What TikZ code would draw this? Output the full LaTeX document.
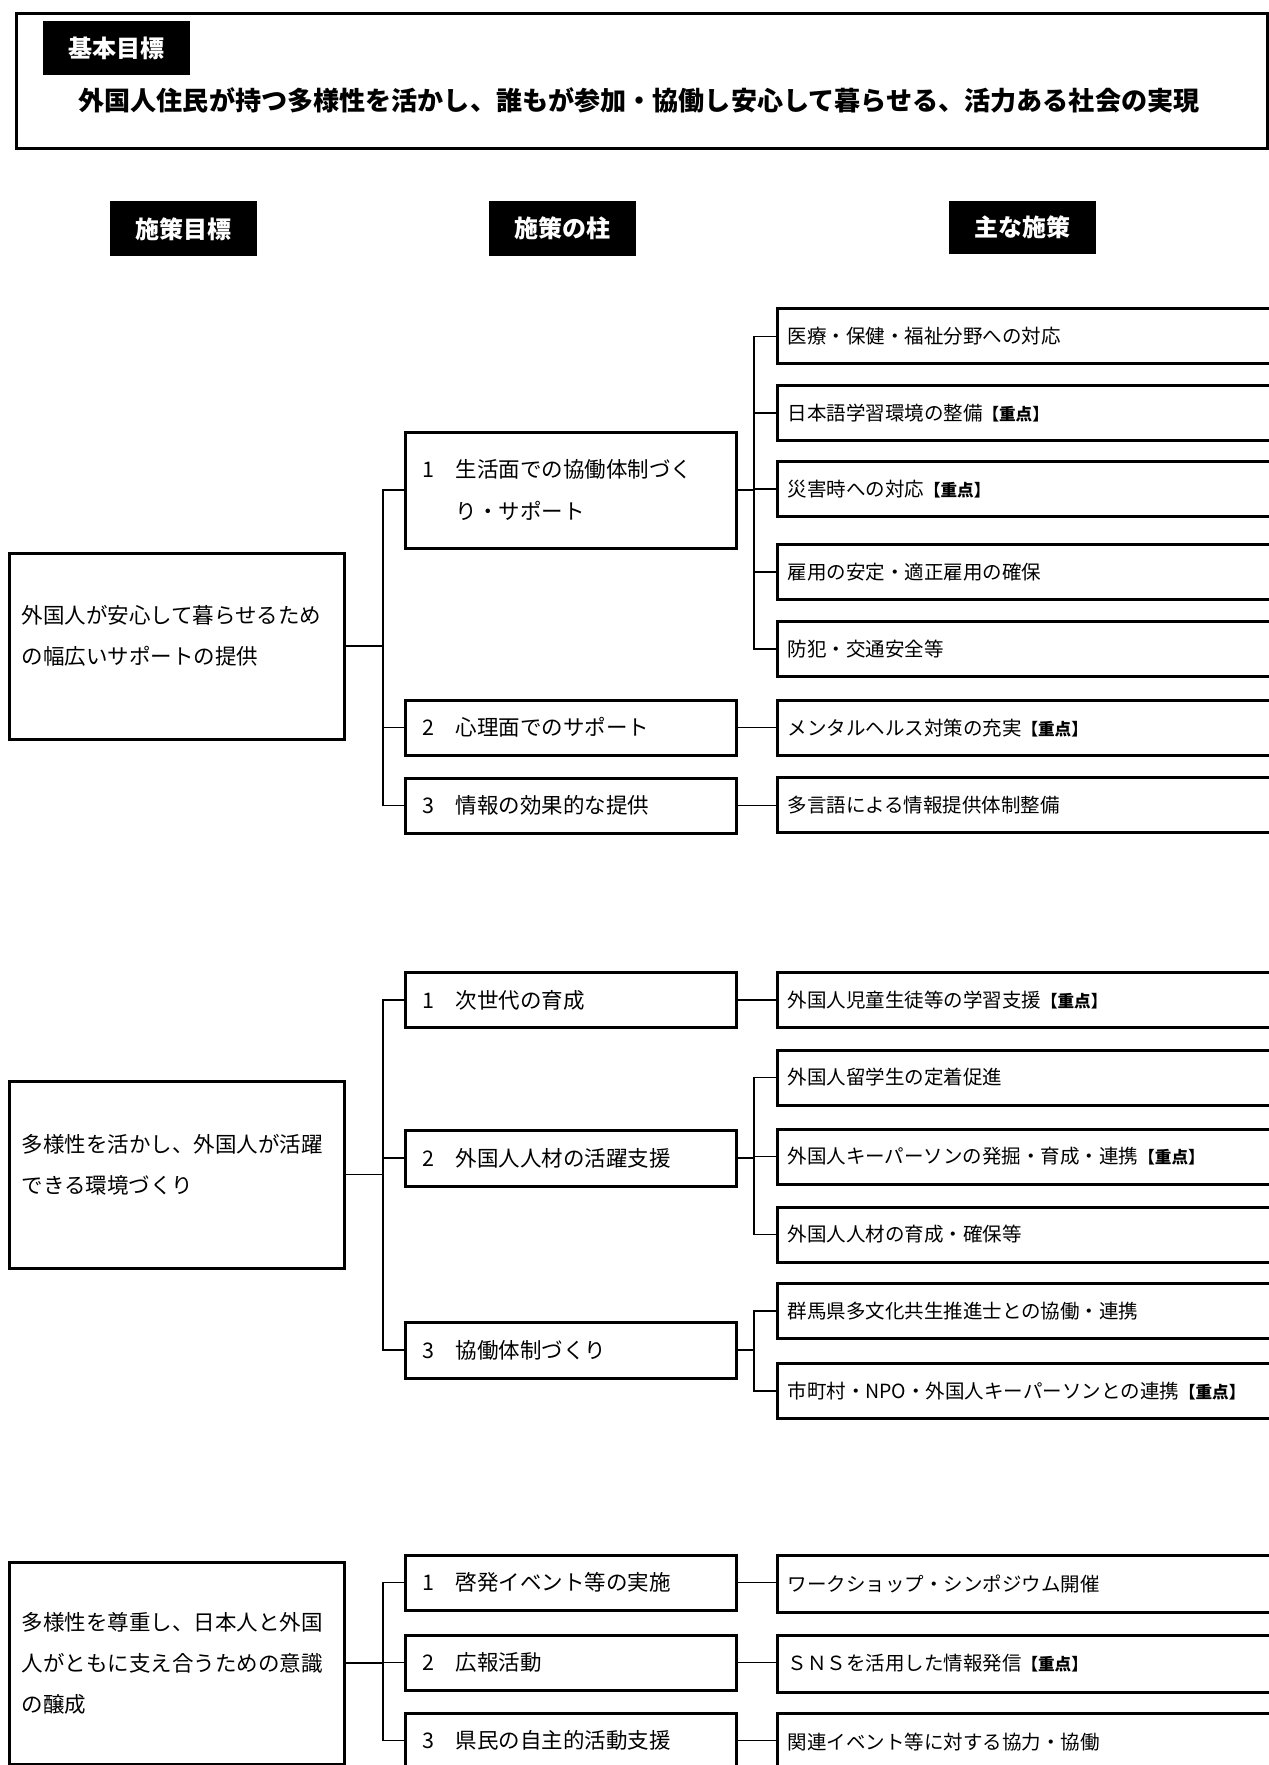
\documentclass[tikz,border=0pt]{standalone}
\usepackage{fontspec}
\setmainfont{Noto Sans CJK JP}
\usetikzlibrary{positioning}
\newcommand{\jyuten}{{\fontsize{8.3}{9}\selectfont\bfseries 【重点】}}

\begin{document}
\begin{tikzpicture}[x=0.5pt,y=0.5pt]
    \tikzset{
        kasten/.style={draw=black, line width=1.5pt, rectangle, inner ysep=0pt},
        ziel/.style={kasten, anchor=west, inner xsep=6pt, text width=155.5pt, align=left, font=\fontsize{10.75}{20.5}\selectfont},
        saeule/.style={kasten, anchor=west, inner xsep=8.5pt, text width=148.5pt, align=left, minimum height=27.5pt, font=\fontsize{10.75}{21}\selectfont},
        massnahme/.style={kasten, anchor=west, inner xsep=5pt, text width=252pt, align=left, minimum height=27.5pt, font=\fontsize{9.75}{12}\selectfont},
        etikett/.style={fill=black, text=white, font=\fontsize{12}{14}\selectfont\bfseries, minimum width=73.5pt, minimum height=27.5pt, inner sep=0pt},
        linie/.style={line width=0.6pt},
    }
\useasboundingbox (0,0) rectangle (1268,-1765);

% Grundziel
\node[kasten, anchor=north west, minimum width=625.5pt, minimum height=67.5pt] (grundziel) at (15,-12) {};
\node[etikett, minimum width=73.5pt, minimum height=27pt] (grundLabel) at (116.5,-48) {基本目標};
\node[font=\fontsize{13.05}{16}\selectfont\bfseries] (leitbild) at (639,-100) {外国人住民が持つ多様性を活かし、誰もが参加・協働し安心して暮らせる、活力ある社会の実現};

% Spaltenkoepfe
\node[etikett] (kopfZiel) at (183.5,-229) {施策目標};
\node[etikett] (kopfSaeule) at (562.5,-228.5) {施策の柱};
\node[etikett, minimum height=26.5pt] (kopfMass) at (1022,-227.5) {主な施策};

% Ziel 1
\node[ziel, minimum height=93pt, text depth=31.4pt] (goalA) at (8,-646) {外国人が安心して暮らせるため\\の幅広いサポートの提供};
\node[saeule, minimum height=58pt] (pilA1) at (404,-490) {1　生活面での協働体制づく\\\hphantom{1　}り・サポート};
\node[saeule] (pilA2) at (404,-727.5) {2　心理面でのサポート};
\node[saeule] (pilA3) at (404,-805.5) {3　情報の効果的な提供};
\foreach \y/\txt [count=\i] in {336.5/医療・保健・福祉分野への対応, 413/日本語学習環境の整備\jyuten, 489/災害時への対応\jyuten, 572/雇用の安定・適正雇用の確保, 649/防犯・交通安全等, 728/メンタルヘルス対策の充実\jyuten, 805/多言語による情報提供体制整備} {
    \node[massnahme] (mesA\i) at (776,-\y) {\txt};
}

% Ziel 2
\node[ziel, minimum height=93.5pt, text depth=31.4pt] (goalB) at (8,-1174.5) {多様性を活かし、外国人が活躍\\できる環境づくり};
\node[saeule] (pilB1) at (404,-1000) {1　次世代の育成};
\node[saeule, minimum height=28pt] (pilB2) at (404,-1158) {2　外国人人材の活躍支援};
\node[saeule, minimum height=28pt] (pilB3) at (404,-1350) {3　協働体制づくり};
\foreach \y/\txt [count=\i] in {1000/外国人児童生徒等の学習支援\jyuten, 1077.5/外国人留学生の定着促進, 1156.5/外国人キーパーソンの発掘・育成・連携\jyuten, 1234.5/外国人人材の育成・確保等, 1311/群馬県多文化共生推進士との協働・連携, 1391/市町村・NPO・外国人キーパーソンとの連携\jyuten} {
    \node[massnahme] (mesB\i) at (776,-\y) {\txt};
}

% Ziel 3
\node[ziel, minimum height=101pt] (goalC) at (8,-1663) {多様性を尊重し、日本人と外国\\人がともに支え合うための意識\\の醸成};
\node[saeule] (pilC1) at (404,-1582.5) {1　啓発イベント等の実施};
\node[saeule] (pilC2) at (404,-1662.5) {2　広報活動};
\node[saeule] (pilC3) at (404,-1740.5) {3　県民の自主的活動支援};
\foreach \y/\txt [count=\i] in {1583.5/ワークショップ・シンポジウム開催, 1663.5/ＳＮＳを活用した情報発信\jyuten, 1742/関連イベント等に対する協力・協働} {
    \node[massnahme, minimum height=28.5pt] (mesC\i) at (776,-\y) {\txt};
}

% Verbindungen: Ziel -> Saeulen
\foreach \g in {A,B,C} {
    \foreach \i in {1,2,3} {
        \draw[linie] (pil\g\i.west) -- ++(-21,0) |- (goal\g.east);
    }
}

% Verbindungen: Saeulen -> Massnahmen
\foreach \i in {1,...,5} {
    \draw[linie] (mesA\i.west) -- ++(-22,0) |- (pilA1.east);
}
\draw[linie] (pilA2.east) -- (pilA2.east -| mesA6.west);
\draw[linie] (pilA3.east) -- (pilA3.east -| mesA7.west);
\draw[linie] (pilB1.east) -- (pilB1.east -| mesB1.west);
\foreach \i in {2,3,4} {
    \draw[linie] (mesB\i.west) -- ++(-22,0) |- (pilB2.east);
}
\foreach \i in {5,6} {
    \draw[linie] (mesB\i.west) -- ++(-22,0) |- (pilB3.east);
}
\foreach \i in {1,2,3} {
    \draw[linie] (pilC\i.east) -- (pilC\i.east -| mesC\i.west);
}

\end{tikzpicture}
\end{document}
